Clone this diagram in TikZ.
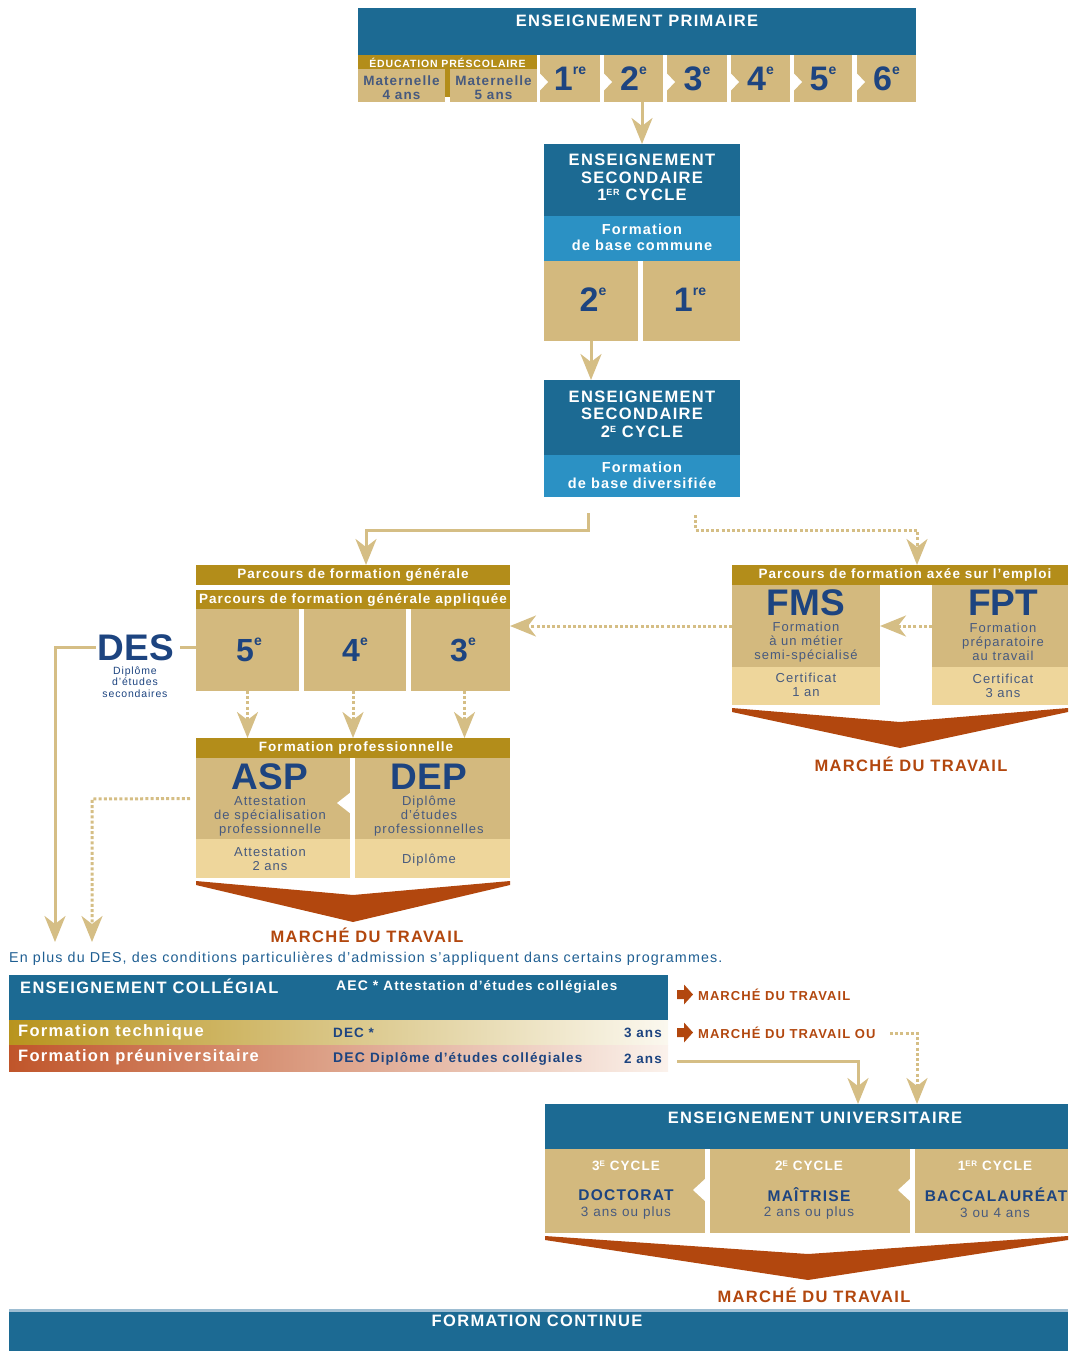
\documentclass[tikz,border=0pt]{standalone}
\usepackage{fontspec}
\setmainfont{Liberation Sans}[LetterSpace=8]
\newfontfamily\numfont{Liberation Sans}
\usetikzlibrary{fit,arrows.meta}
\definecolor{cDblue}{HTML}{1C6A93}
\definecolor{cLblue}{HTML}{2B91C4}
\definecolor{cTan}{HTML}{D3B97E}
\definecolor{cLtan}{HTML}{EED69B}
\definecolor{cGold}{HTML}{B38D1A}
\definecolor{cNavy}{HTML}{1D4480}
\definecolor{cGrey}{HTML}{475A7E}
\definecolor{cRust}{HTML}{B2470E}
\definecolor{cArr}{HTML}{D5BE85}
\definecolor{cNote}{HTML}{1E5E92}
\definecolor{cStripe}{HTML}{9DBDD2}
\definecolor{cTechL}{HTML}{B8941E}
\definecolor{cTechR}{HTML}{FBF8EF}
\definecolor{cPreL}{HTML}{C0552A}
\definecolor{cPreR}{HTML}{FBF2EC}
\newcommand\fz[2]{\fontsize{#1pt}{#2pt}\selectfont}
\newcommand\bx[6]{\node[inner sep=0pt, outer sep=0pt, fit={(#2,#3) (#4,#5)}, #6] (#1) {};}
\newcommand\gsup[1]{\raisebox{16pt}{\fz{14}{14}#1}}
\newcommand\rarr[2]{\fill[cRust] (#1,#2-4.5) -- (#1+7,#2-4.5) -- (#1+7,#2-10) -- (#1+16,#2) -- (#1+7,#2+10) -- (#1+7,#2+4.5) -- (#1,#2+4.5) -- cycle;}
\tikzset{
 ttl/.style={text=white, font=\bfseries\fz{16.5}{17.6}, align=center, inner sep=0pt},
 sub/.style={text=white, font=\bfseries\fz{14.5}{16}, align=center, inner sep=0pt},
 hdr/.style={text=white, font=\bfseries\fz{13.5}{14}, inner sep=0pt},
 num/.style={text=cNavy, font=\numfont\bfseries\fz{34}{34}, inner sep=0pt},
 acr/.style={text=cNavy, font=\numfont\bfseries\fz{37}{37}, inner sep=0pt},
 desc/.style={text=cGrey, font=\fz{13}{14}, align=center, inner sep=0pt},
 mat/.style={text=cGrey, font=\bfseries\fz{13.5}{14.5}, align=center, inner sep=0pt},
 unv/.style={text=cNavy, font=\bfseries\fz{15.5}{16}, inner sep=0pt},
 mdt/.style={text=cRust, font=\bfseries\fz{16.5}{17}, inner sep=0pt},
 cnav/.style={text=cNavy, font=\bfseries\fz{13.5}{14}, inner sep=0pt},
 arr/.style={draw=cArr, line width=3pt, -{Stealth[length=26pt,width=21pt,inset=8pt]}},
 darr/.style={arr, dash pattern=on 3pt off 2.2pt},
 ln/.style={draw=cArr, line width=3pt},
 chev/.style={fill=cRust},
 notch/.style={fill=white},
}
\begin{document}
\begin{tikzpicture}[x=1pt,y=-1pt]
\useasboundingbox (0,0) rectangle (1068,1351);
% ---------- primaire
\bx{prim}{358}{8}{916}{55}{fill=cDblue}
\node[ttl] (tprim) at (637,21) {ENSEIGNEMENT PRIMAIRE};
\bx{presco}{358}{55}{537}{69}{fill=cGold}
\node[hdr, font=\bfseries\fz{10.5}{11}] (tpresco) at (447.5,62.5) {ÉDUCATION PRÉSCOLAIRE};
\bx{mat4}{358}{69}{445}{102}{fill=cTan}
\bx{mat5}{450}{69}{537}{102}{fill=cTan}
\fill[cGold] (445,69) rectangle (450,97);
\node[mat] (tmat4) at (401.5,87.5) {Maternelle\\4 ans};
\node[mat] (tmat5) at (493.5,87.5) {Maternelle\\5 ans};
\bx{p1}{540}{55}{600}{102}{fill=cTan}
\bx{p2}{604}{55}{663}{102}{fill=cTan}
\bx{p3}{667}{55}{727}{102}{fill=cTan}
\bx{p4}{731}{55}{790}{102}{fill=cTan}
\bx{p5}{794}{55}{852}{102}{fill=cTan}
\bx{p6}{857}{55}{916}{102}{fill=cTan}
\foreach \x in {540,604,667,731,794,857}
  \fill[notch] (\x-0.5,73) -- (\x+8,82) -- (\x-0.5,91) -- cycle;
\node[num] (tp1) at (p1) {1\gsup{re}};
\node[num] (tp2) at (p2) {2\gsup{e}};
\node[num] (tp3) at (p3) {3\gsup{e}};
\node[num] (tp4) at (p4) {4\gsup{e}};
\node[num] (tp5) at (p5) {5\gsup{e}};
\node[num] (tp6) at (p6) {6\gsup{e}};
% ---------- secondaire 1
\bx{sa}{544}{144}{740}{216}{fill=cDblue}
\node[ttl] (tsa) at (642,177.5) {ENSEIGNEMENT\\SECONDAIRE\\1\raisebox{5pt}{\fz{9}{9}ER} CYCLE};
\bx{sb}{544}{216}{740}{261}{fill=cLblue}
\node[sub] (tsb) at (642,237.5) {Formation\\de base commune};
\bx{sg2}{544}{261}{638}{341}{fill=cTan}
\bx{sg1}{643}{261}{740}{341}{fill=cTan}
\node[num] (tsg2) at (593,300) {2\gsup{e}};
\node[num] (tsg1) at (690,300) {1\gsup{re}};
% ---------- secondaire 2
\bx{sc}{544}{380}{740}{455}{fill=cDblue}
\node[ttl] (tsc) at (642,414) {ENSEIGNEMENT\\SECONDAIRE\\2\raisebox{5pt}{\fz{9}{9}E} CYCLE};
\bx{sd}{544}{455}{740}{497}{fill=cLblue}
\node[sub] (tsd) at (642,475.5) {Formation\\de base diversifiée};
\draw[arr] (p2.south -| sa.north) -- (sa.north);
\draw[arr] (sg2.south) -- (sg2.south |- sc.north);
% ---------- parcours general
\bx{pg}{196}{565}{510}{585}{fill=cGold}
\node[hdr] (tpg) at (353,575) {Parcours de formation générale};
\bx{pga}{196}{590}{510}{609}{fill=cGold}
\node[hdr] (tpga) at (353,599.5) {Parcours de formation générale appliquée};
\bx{b5}{196}{609}{299}{691}{fill=cTan}
\bx{b4}{304}{609}{406}{691}{fill=cTan}
\bx{b3}{411}{609}{510}{691}{fill=cTan}
\node[num, font=\numfont\bfseries\fz{32}{32}] (tb5) at (249,650) {5\gsup{e}};
\node[num, font=\numfont\bfseries\fz{32}{32}] (tb4) at (355,650) {4\gsup{e}};
\node[num, font=\numfont\bfseries\fz{32}{32}] (tb3) at (463,650) {3\gsup{e}};
\coordinate (ca) at (588,513); \coordinate (cb) at (588,530); \coordinate (cc) at (366,530);
\draw[arr] (ca) -- (cb) -- (cc) -- (cc |- pg.north);
\coordinate (da) at (695,515); \coordinate (db) at (695,530); \coordinate (dc) at (917,530);
% ---------- DES
\node[acr] (des) at (136,647.5) {DES};
\node[desc, text=cNavy, font=\fz{10.5}{11.5}] (tdes) at (135,682) {Diplôme\\d'études\\secondaires};
\draw[ln] ([xshift=6pt]des.east) -- (des.east -| b5.west);
\coordinate (dl) at (55,647.5); \coordinate (dle) at (55,942);
\draw[arr] ([xshift=-2pt]des.west) -- (dl) -- (dle);
% ---------- emploi
\bx{pe}{732}{565}{1068}{585}{fill=cGold}
\node[hdr] (tpe) at (905,574.5) {Parcours de formation axée sur l'emploi};
\draw[darr] (da) -- (db) -- (dc) -- (dc |- pe.north);
\bx{fmsa}{732}{585}{880}{667}{fill=cTan}
\bx{fmsb}{732}{667}{880}{705}{fill=cLtan}
\bx{fpta}{932}{585}{1068}{667}{fill=cTan}
\bx{fptb}{932}{667}{1068}{705}{fill=cLtan}
\node[acr] (tfms) at (806,603) {FMS};
\node[desc] (dfms) at (806,642) {Formation\\à un métier\\semi-spécialisé};
\node[desc] (cfms) at (806,685) {Certificat\\1 an};
\node[acr] (tfpt) at (1003,603) {FPT};
\node[desc] (dfpt) at (1003,642) {Formation\\préparatoire\\au travail};
\node[desc] (cfpt) at (1003,686) {Certificat\\3 ans};
\draw[darr] (fpta.west) -- (fmsa.east);
\draw[darr] (fmsa.west) -- (fmsa.west -| b3.east);
\fill[chev] (732,708) -- (900,722) -- (1068,708) -- (1068,712) -- (900,748) -- (732,712) -- cycle;
\node[mdt] (mdt1) at (911,764) {MARCHÉ DU TRAVAIL};
% ---------- formation professionnelle
\bx{pro}{196}{738}{510}{758}{fill=cGold}
\node[hdr] (tpro) at (356,748) {Formation professionnelle};
\bx{aspa}{196}{758}{350}{839}{fill=cTan}
\bx{aspb}{196}{839}{350}{878}{fill=cLtan}
\bx{depa}{355}{758}{510}{839}{fill=cTan}
\bx{depb}{355}{839}{510}{878}{fill=cLtan}
\fill[notch] (351,792) -- (337,803) -- (351,814) -- cycle;
\node[acr] (tasp) at (270,777) {ASP};
\node[desc] (dasp) at (270,816) {Attestation\\de spécialisation\\professionnelle};
\node[desc] (casp) at (270,859) {Attestation\\2 ans};
\node[acr] (tdep) at (429,777) {DEP};
\node[desc] (ddep) at (429,816) {Diplôme\\d'études\\professionnelles};
\node[desc] (cdep) at (429,860) {Diplôme};
\draw[darr] (b5.south) -- (b5.south |- pro.north);
\draw[darr] ([xshift=-2pt]b4.south) -- ([xshift=-2pt]b4.south |- pro.north);
\draw[darr] ([xshift=4pt]b3.south) -- ([xshift=4pt]b3.south |- pro.north);
\fill[chev] (196,881) -- (353,895) -- (510,881) -- (510,885) -- (353,922) -- (196,885) -- cycle;
\node[mdt] (mdt2) at (367,935) {MARCHÉ DU TRAVAIL};
\coordinate (ea) at (92,799); \coordinate (eb) at (92,942);
\draw[darr] ([xshift=-6pt]aspa.west) -- (ea) -- (eb);
% ---------- note
\node[anchor=west, text=cNote, font=\fz{14.3}{15}, inner sep=0pt] (note) at (9,959) {En plus du DES, des conditions particulières d'admission s'appliquent dans certains programmes.};
% ---------- collegial
\bx{col}{9}{975}{668}{1020}{fill=cDblue}
\bx{tech}{9}{1020}{668}{1045}{left color=cTechL, right color=cTechR}
\bx{preu}{9}{1045}{668}{1071}{left color=cPreL, right color=cPreR}
\node[ttl, anchor=west] (tcol) at (20,986.5) {ENSEIGNEMENT COLLÉGIAL};
\node[anchor=west, text=white, font=\bfseries\fz{14}{15}, inner sep=0pt] (taec) at (336,986.5) {AEC * {\fz{13.5}{15}Attestation d'études collégiales}};
\node[ttl, anchor=west] (ttech) at (18,1032) {Formation technique};
\node[cnav, anchor=west] (tdec1) at (333,1032.5) {DEC *};
\node[cnav, anchor=east] (t3ans) at (662,1032.5) {3 ans};
\node[ttl, anchor=west] (tpre) at (18,1057) {Formation préuniversitaire};
\node[cnav, anchor=west, font=\bfseries\fz{14}{15}] (tdec2) at (333,1059) {DEC {\fz{13.5}{15}Diplôme d'études collégiales}};
\node[cnav, anchor=east] (t2ans) at (662,1059) {2 ans};
\rarr{677}{994.5}
\rarr{677}{1032.5}
\node[anchor=west, text=cRust, font=\bfseries\fz{13}{14}, inner sep=0pt] (m4) at (698,995) {MARCHÉ DU TRAVAIL};
\node[anchor=west, text=cRust, font=\bfseries\fz{13}{14}, inner sep=0pt] (m5) at (698,1033) {MARCHÉ DU TRAVAIL OU};
% ---------- universitaire
\bx{uni}{545}{1104}{1068}{1149}{fill=cDblue}
\node[ttl] (tuni) at (815,1118) {ENSEIGNEMENT UNIVERSITAIRE};
\coordinate (fa) at (677,1061); \coordinate (fb) at (858,1061);
\draw[arr] (fa) -- (fb) -- (fb |- uni.north);
\coordinate (ga) at (890,1033); \coordinate (gb) at (917,1033);
\draw[darr] (ga) -- (gb) -- (gb |- uni.north);
\bx{udoc}{545}{1149}{705}{1233}{fill=cTan}
\bx{umai}{710}{1149}{910}{1233}{fill=cTan}
\bx{ubac}{915}{1149}{1068}{1233}{fill=cTan}
\fill[notch] (706,1178) -- (693,1190) -- (706,1202) -- cycle;
\fill[notch] (911,1178) -- (898,1190) -- (911,1202) -- cycle;
\node[hdr] (c3) at (626,1166) {3\raisebox{4.5pt}{\fz{8}{8}E} CYCLE};
\node[unv] (n3) at (626,1195) {DOCTORAT};
\node[desc, font=\fz{13.5}{14}] (y3) at (626,1213) {3 ans ou plus};
\node[hdr] (c2) at (809,1166) {2\raisebox{4.5pt}{\fz{8}{8}E} CYCLE};
\node[unv] (n2) at (809,1195) {MAÎTRISE};
\node[desc, font=\fz{13.5}{14}] (y2) at (809,1213) {2 ans ou plus};
\node[hdr] (c1) at (995,1166) {1\raisebox{4.5pt}{\fz{8}{8}ER} CYCLE};
\node[unv] (n1) at (996,1195) {BACCALAURÉAT};
\node[desc, font=\fz{13.5}{14}] (y1) at (995,1213) {3 ou 4 ans};
\fill[chev] (545,1236) -- (808,1254) -- (1068,1236) -- (1068,1240) -- (808,1280) -- (545,1240) -- cycle;
\node[mdt] (mdt3) at (814,1295) {MARCHÉ DU TRAVAIL};
% ---------- formation continue
\bx{fc}{9}{1309}{1068}{1351}{fill=cDblue}
\fill[cStripe] (9,1309) rectangle (1068,1311.5);
\node[ttl] (tfc) at (537,1321) {FORMATION CONTINUE};
\end{tikzpicture}
\end{document}
